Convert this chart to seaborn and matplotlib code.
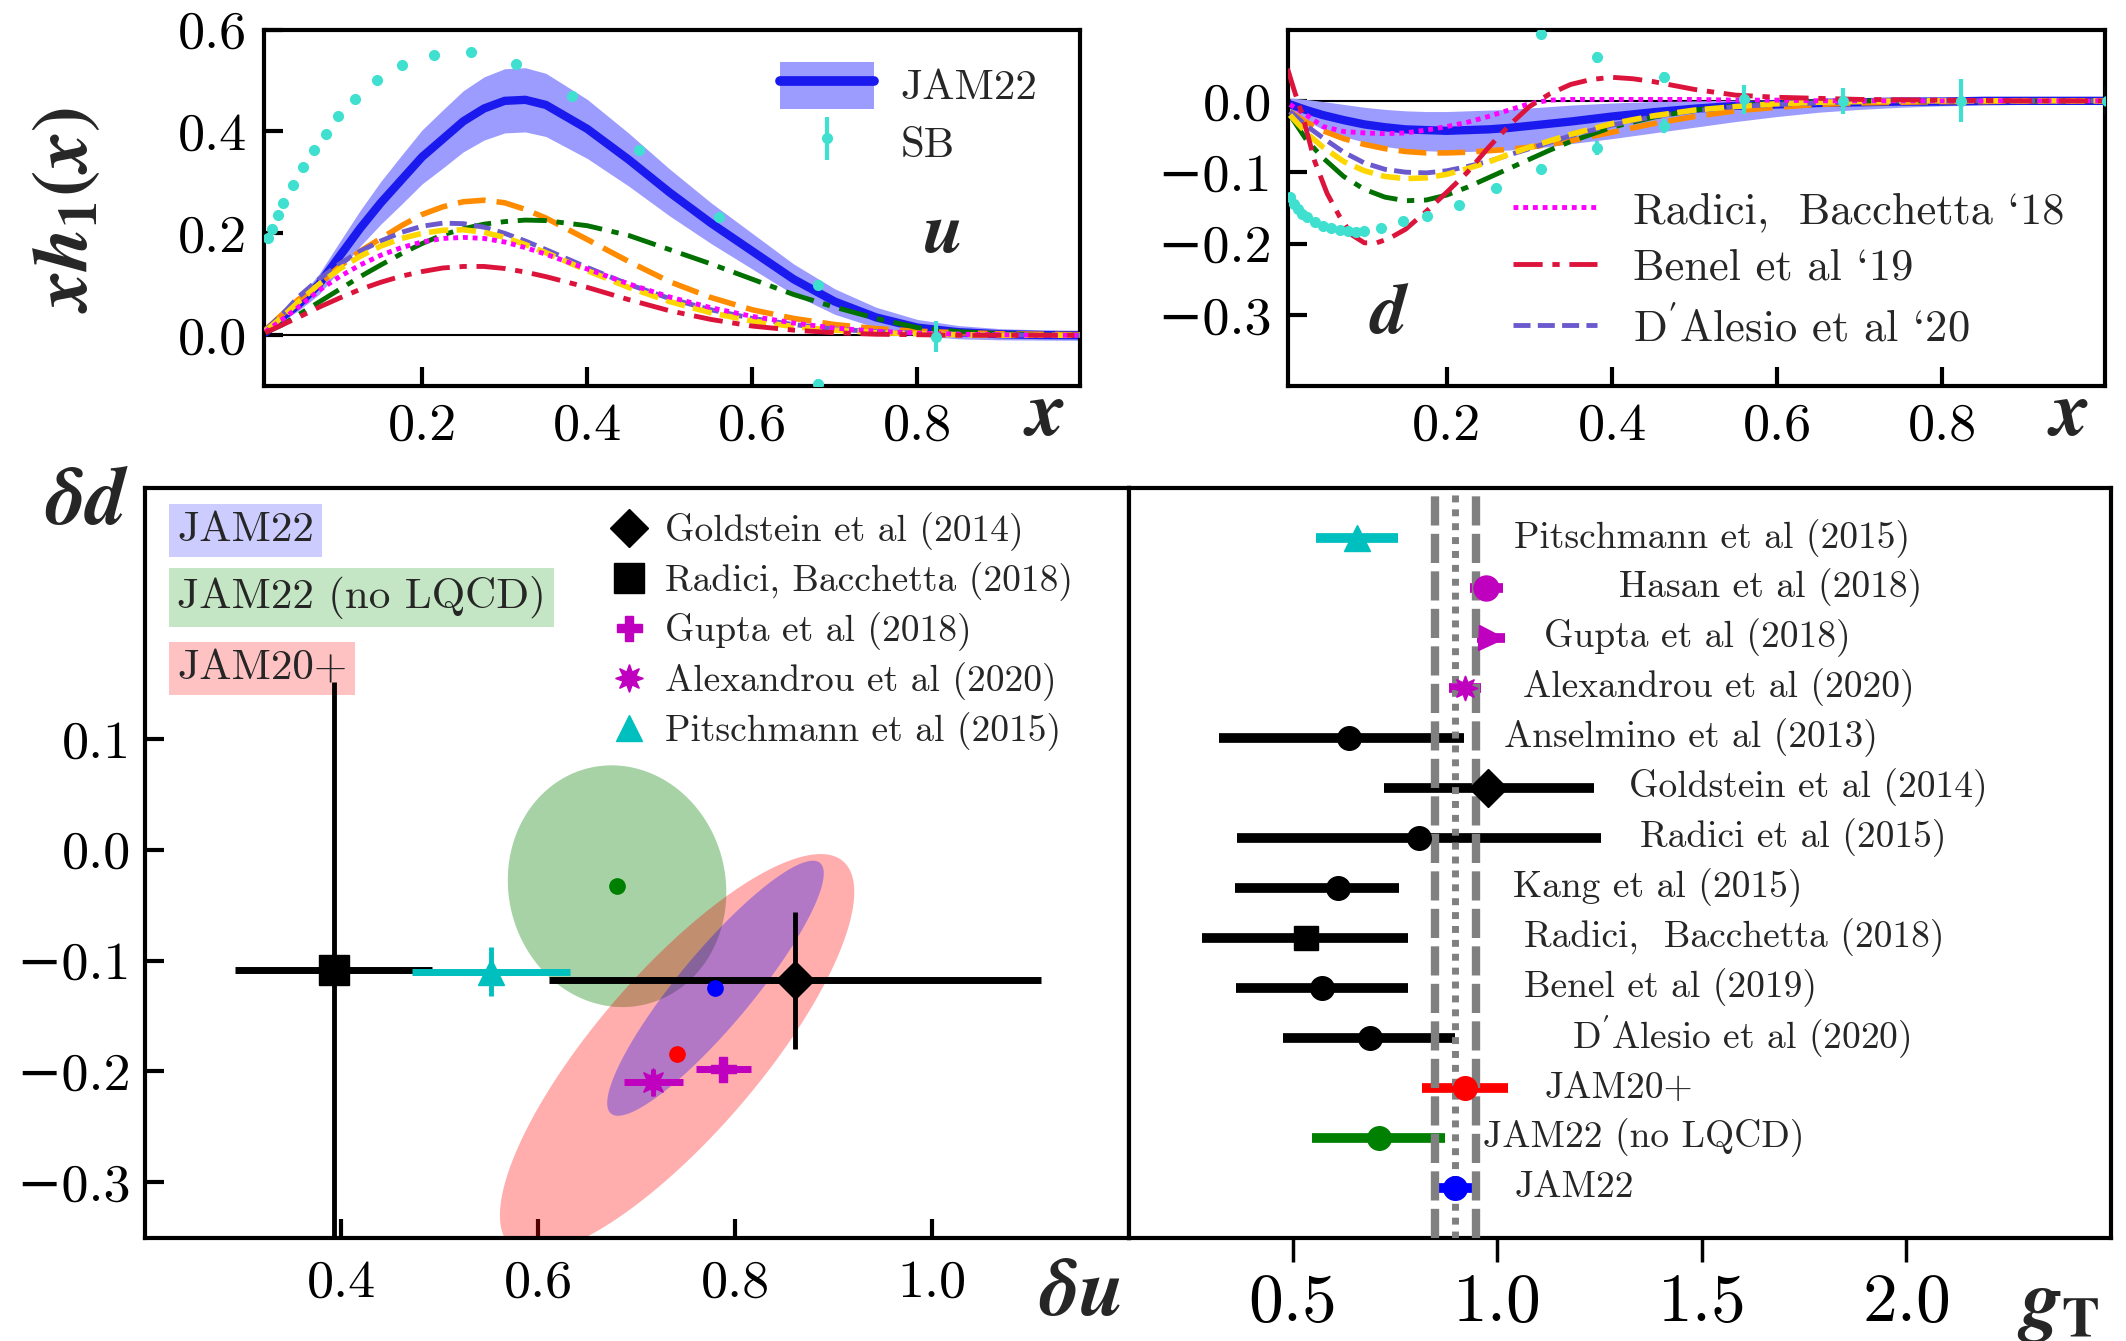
import numpy as np
import matplotlib
matplotlib.use("Agg")
import matplotlib.pyplot as plt
import seaborn as sns
from matplotlib.lines import Line2D
from matplotlib.patches import Patch
from matplotlib.legend_handler import HandlerTuple

# ------------------------------------------------------------------ data
X_GRID = [0.01, 0.03, 0.05, 0.075, 0.1, 0.125, 0.15, 0.175, 0.2, 0.225, 0.25, 0.275,
          0.3, 0.325, 0.35, 0.4, 0.45, 0.5, 0.55, 0.6, 0.65, 0.7, 0.75, 0.8, 0.85,
          0.9, 0.95, 1.0]

# u quark (x h1)
JAM22_U = [0.005, 0.035, 0.06, 0.10, 0.155, 0.21, 0.26, 0.305, 0.35, 0.385, 0.42, 0.445,
           0.46, 0.462, 0.452, 0.405, 0.345, 0.28, 0.22, 0.165, 0.11, 0.066, 0.035, 0.015,
           0.006, 0.002, 0.0005, 0.0]
JAM22_U_LO = [0.003, 0.028, 0.048, 0.08, 0.127, 0.175, 0.218, 0.257, 0.297, 0.328, 0.36, 0.383,
              0.397, 0.399, 0.39, 0.347, 0.293, 0.234, 0.18, 0.13, 0.08, 0.041, 0.015, -0.001,
              -0.007, -0.009, -0.0095, -0.01]
JAM22_U_HI = [0.007, 0.042, 0.072, 0.12, 0.183, 0.245, 0.302, 0.353, 0.403, 0.442, 0.48, 0.507,
              0.523, 0.525, 0.514, 0.463, 0.397, 0.326, 0.26, 0.2, 0.14, 0.091, 0.055, 0.031,
              0.019, 0.013, 0.0105, 0.01]
ORANGE_U = [0.01, 0.04, 0.07, 0.10, 0.135, 0.165, 0.19, 0.215, 0.237, 0.252, 0.262, 0.265,
            0.26, 0.247, 0.23, 0.188, 0.145, 0.105, 0.074, 0.05, 0.033, 0.021, 0.013, 0.008,
            0.005, 0.003, 0.002, 0.001]
GREEN_U = [0.005, 0.02, 0.04, 0.065, 0.09, 0.115, 0.138, 0.16, 0.18, 0.197, 0.209, 0.218,
           0.223, 0.226, 0.225, 0.215, 0.196, 0.168, 0.14, 0.11, 0.08, 0.055, 0.033, 0.015,
           0.007, 0.003, 0.001, 0.0]
DALESIO_U = [0.01, 0.04, 0.075, 0.11, 0.14, 0.165, 0.185, 0.202, 0.214, 0.22, 0.219, 0.212,
             0.2, 0.185, 0.168, 0.133, 0.1, 0.072, 0.05, 0.033, 0.021, 0.012, 0.007, 0.004,
             0.002, 0.001, 0.0, 0.0]
GOLD_U = [0.008, 0.035, 0.065, 0.1, 0.13, 0.155, 0.175, 0.19, 0.2, 0.206, 0.207, 0.202,
          0.192, 0.178, 0.162, 0.127, 0.094, 0.066, 0.044, 0.028, 0.017, 0.01, 0.005, 0.003,
          0.001, 0.0, 0.0, 0.0]
RADICI_U = [0.007, 0.03, 0.055, 0.088, 0.115, 0.138, 0.157, 0.172, 0.183, 0.19, 0.192, 0.19,
            0.183, 0.172, 0.159, 0.13, 0.101, 0.075, 0.054, 0.037, 0.024, 0.014, 0.008, 0.004,
            0.002, 0.001, 0.0, 0.0]
BENEL_U = [0.005, 0.02, 0.035, 0.055, 0.073, 0.09, 0.104, 0.116, 0.125, 0.132, 0.135, 0.135,
           0.131, 0.124, 0.115, 0.094, 0.07, 0.048, 0.031, 0.018, 0.01, 0.005, 0.002, 0.001,
           0.0, 0.0, 0.0, 0.0]
SB_U_X = [0.013, 0.018, 0.025, 0.032, 0.043, 0.056, 0.069, 0.083, 0.098, 0.119, 0.145, 0.176,
          0.214, 0.259, 0.314, 0.382, 0.463, 0.56, 0.68, 0.823, 0.68]
SB_U_Y = [0.19, 0.209, 0.235, 0.26, 0.295, 0.33, 0.364, 0.395, 0.43, 0.464, 0.5, 0.53,
          0.55, 0.556, 0.533, 0.47, 0.364, 0.232, 0.099, -0.003, -0.095]
SB_U_ERR = [0.004, 0.004, 0.004, 0.004, 0.004, 0.004, 0.004, 0.004, 0.004, 0.005, 0.005, 0.006,
            0.006, 0.007, 0.007, 0.008, 0.008, 0.008, 0.01, 0.03, 0.01]

# d quark (x h1)
JAM22_D = [-0.005, -0.013, -0.02, -0.027, -0.033, -0.037, -0.04, -0.041, -0.042, -0.041, -0.04,
           -0.038, -0.035, -0.032, -0.029, -0.022, -0.016, -0.011, -0.007, -0.005, -0.003,
           -0.002, -0.001, -0.001, 0.0, 0.0, 0.0, 0.0]
JAM22_D_LO = [-0.015, -0.028, -0.04, -0.05, -0.058, -0.064, -0.068, -0.07, -0.071, -0.071, -0.07,
              -0.069, -0.067, -0.064, -0.06, -0.053, -0.045, -0.037, -0.029, -0.022, -0.016,
              -0.012, -0.009, -0.007, -0.006, -0.005, -0.005, -0.005]
JAM22_D_HI = [0.004, 0.002, -0.001, -0.005, -0.009, -0.012, -0.014, -0.015, -0.015, -0.014,
              -0.013, -0.012, -0.01, -0.008, -0.006, -0.003, -0.001, 0.0, 0.001, 0.001, 0.002,
              0.003, 0.003, 0.004, 0.004, 0.005, 0.005, 0.005]
ORANGE_D = [-0.015, -0.03, -0.042, -0.053, -0.061, -0.067, -0.071, -0.073, -0.073, -0.072, -0.07,
            -0.068, -0.065, -0.061, -0.056, -0.044, -0.032, -0.022, -0.014, -0.009, -0.005,
            -0.003, -0.002, -0.001, -0.001, 0.0, 0.0, 0.0]
GREEN_D = [-0.02, -0.055, -0.08, -0.106, -0.124, -0.135, -0.14, -0.139, -0.132, -0.121, -0.108,
           -0.095, -0.082, -0.069, -0.057, -0.037, -0.023, -0.013, -0.007, -0.003, -0.001, 0.0,
           0.0, 0.0, 0.0, 0.0, 0.0, 0.0]
DALESIO_D = [-0.015, -0.035, -0.052, -0.072, -0.087, -0.096, -0.1, -0.101, -0.098, -0.092,
             -0.085, -0.076, -0.067, -0.058, -0.049, -0.034, -0.022, -0.014, -0.008, -0.005,
             -0.003, -0.001, 0.0, 0.0, 0.0, 0.0, 0.0, 0.0]
GOLD_D = [-0.02, -0.045, -0.065, -0.085, -0.098, -0.106, -0.109, -0.108, -0.103, -0.095, -0.086,
          -0.075, -0.065, -0.056, -0.047, -0.032, -0.021, -0.013, -0.008, -0.004, -0.002,
          -0.001, 0.0, 0.0, 0.0, 0.0, 0.0, 0.0]
RADICI_D = [-0.005, -0.02, -0.036, -0.043, -0.045, -0.046, -0.045, -0.041, -0.036, -0.03, -0.022,
            -0.013, -0.004, 0.001, 0.002, 0.002, 0.002, 0.002, 0.001, 0.001, 0.0, 0.0, 0.0, 0.0,
            0.0, 0.0, 0.0, 0.0]
BENEL_X = [0.007, 0.015, 0.025, 0.04, 0.055, 0.07, 0.085, 0.1, 0.115, 0.13, 0.15, 0.175, 0.2,
           0.225, 0.25, 0.275, 0.3, 0.325, 0.35, 0.375, 0.4, 0.425, 0.45, 0.5, 0.55, 0.6, 0.7,
           0.8, 0.9, 1.0]
BENEL_D = [0.045, 0.015, -0.02, -0.085, -0.13, -0.162, -0.188, -0.199, -0.199, -0.193, -0.18,
           -0.155, -0.128, -0.1, -0.066, -0.035, -0.008, 0.01, 0.023, 0.03, 0.033, 0.031, 0.027,
           0.016, 0.008, 0.005, 0.002, 0.001, 0.0, 0.0]
SB_D_X = [0.01, 0.015, 0.02, 0.025, 0.03, 0.04, 0.05, 0.06, 0.07, 0.08, 0.09, 0.1, 0.12, 0.147,
          0.176, 0.215, 0.26, 0.314, 0.382, 0.463, 0.56, 0.68, 0.823, 1.0, 0.314, 0.382, 0.463]
SB_D_Y = [-0.135, -0.145, -0.152, -0.158, -0.163, -0.17, -0.175, -0.178, -0.181, -0.183, -0.184,
          -0.183, -0.178, -0.169, -0.162, -0.146, -0.122, -0.096, -0.066, -0.035, 0.002, 0.0,
          0.0, 0.0, 0.094, 0.061, 0.033]
SB_D_ERR = [0.003, 0.003, 0.003, 0.003, 0.003, 0.003, 0.003, 0.003, 0.003, 0.003, 0.003, 0.003,
            0.004, 0.004, 0.005, 0.005, 0.006, 0.007, 0.01, 0.01, 0.02, 0.018, 0.03, 0.02,
            0.007, 0.008, 0.008]

# tensor charges: delta u vs delta d
LIT_NAMES = ["Goldstein et al (2014)", "Radici, Bacchetta (2018)", "Gupta et al (2018)",
             "Alexandrou et al (2020)", "Pitschmann et al (2015)"]
LIT_DU = [0.861, 0.392, 0.788, 0.717, 0.552]
LIT_DU_ERR = [0.25, 0.10, 0.028, 0.03, 0.08]
LIT_DD = [-0.118, -0.109, -0.198, -0.21, -0.11]
LIT_DD_ERR = [0.062, 0.26, 0.01, 0.012, 0.022]

FIT_NAMES = ["JAM22 (no LQCD)", "JAM20+", "JAM22"]
FIT_DU = [0.68, 0.741, 0.78]
FIT_DD = [-0.033, -0.184, -0.125]
FIT_DU_HALF = [0.111, 0.18, 0.11]
FIT_DD_HALF = [0.109, 0.18, 0.115]
FIT_CORR = [-0.05, 0.81, 0.9]

# isovector tensor charge g_T
GT_NAMES = ["Pitschmann et al (2015)", "Hasan et al (2018)", "Gupta et al (2018)",
            "Alexandrou et al (2020)", "Anselmino et al (2013)", "Goldstein et al (2014)",
            "Radici et al (2015)", "Kang et al (2015)", "Radici,  Bacchetta (2018)",
            "Benel et al (2019)", "D$'$Alesio et al (2020)", "JAM20+", "JAM22 (no LQCD)", "JAM22"]
GT_VAL = [0.658, 0.973, 0.985, 0.921, 0.639, 0.978, 0.808, 0.61, 0.532, 0.571, 0.689,
          0.921, 0.71, 0.898]
GT_ERR_LO = [0.10, 0.04, 0.035, 0.04, 0.32, 0.254, 0.445, 0.25, 0.253, 0.21, 0.213,
             0.105, 0.163, 0.05]
GT_ERR_HI = [0.10, 0.04, 0.035, 0.04, 0.28, 0.259, 0.446, 0.15, 0.249, 0.21, 0.209,
             0.105, 0.163, 0.05]

# ------------------------------------------------------------------ styles / layout
GT_COLORS = ["c", "m", "m", "m", "k", "k", "k", "k", "k", "k", "k", "red", "green", "blue"]
GT_MARKERS = ["^", "o", ">", (8, 1, 0), "o", "D", "o", "o", "s", "o", "o", "o", "o", "o"]
GT_MS = [19, 18, 18, 18, 17, 19, 17, 17, 17, 17, 17, 17, 17, 17]
GT_LABEL_X = [1.042, 1.298, 1.115, 1.062, 1.016, 1.321, 1.348, 1.039, 1.066, 1.066,
              1.182, 1.115, 0.966, 1.042]
LIT_COLORS = ["k", "k", "m", "m", "c"]
LIT_MARKERS = ["D", "s", "P", (8, 1, 0), "^"]
LIT_MS = [19, 21, 18, 20, 19]
FIT_COLORS = ["green", "red", "blue"]
FIT_ALPHA = [0.35, 0.32, 0.30]

sns.set_style("ticks")
plt.rcParams.update({
    "font.family": ["cmr10", "DejaVu Serif"],
    "axes.unicode_minus": True,
    "axes.formatter.use_mathtext": False,
    "mathtext.fontset": "custom",
    "mathtext.it": "STIXGeneral:italic:bold",
    "mathtext.rm": "STIXGeneral:bold",
    "mathtext.bf": "STIXGeneral:bold",
    "mathtext.fallback": "stix",
    "axes.linewidth": 3,
})

fig = plt.figure(figsize=(21.26, 13.41), dpi=100)
ax_u = fig.add_axes([0.124, 0.712, 0.384, 0.266])
ax_d = fig.add_axes([0.606, 0.712, 0.384, 0.266])
ax_bl = fig.add_axes([0.068, 0.077, 0.463, 0.559])
ax_br = fig.add_axes([0.531, 0.077, 0.462, 0.559])

TICK_FS = 39
for ax in (ax_u, ax_d, ax_bl, ax_br):
    for sp in ax.spines.values():
        sp.set_linewidth(3)
        sp.set_color("k")
    ax.tick_params(direction="in", length=14, width=3, labelsize=TICK_FS, pad=12,
                   top=False, right=False, colors="k")
    ax.set_facecolor("white")

DASH = (0, (5, 2))
DASHDOT = (0, (6, 2, 1.5, 2))
SHORTDASH = (0, (3.5, 1.5))
DOT = (0, (1, 1))


def draw_pdf_panel(ax, band_lo, band_hi, central, orange, green, dalesio, gold, radici,
                   benel_x, benel, sb_x, sb_y, sb_err):
    ax.axhline(0, color="k", lw=1.5, zorder=1)
    ax.fill_between(X_GRID, band_lo, band_hi, color="#9c9cff", lw=0, zorder=1.5)
    sns.lineplot(x=X_GRID, y=central, ax=ax, color="#1a1aee", lw=6, zorder=2,
                 sort=False, errorbar=None)
    sns.lineplot(x=X_GRID, y=orange, ax=ax, color="#ff8c00", lw=4, linestyle=DASH, zorder=3,
                 sort=False, errorbar=None)
    sns.lineplot(x=X_GRID, y=green, ax=ax, color="#007000", lw=3.5, linestyle=DASHDOT,
                 zorder=3, sort=False, errorbar=None)
    sns.lineplot(x=X_GRID, y=dalesio, ax=ax, color="#6a5acd", lw=3.5, linestyle=SHORTDASH,
                 zorder=3, sort=False, errorbar=None, label="D$'$Alesio et al `20")
    sns.lineplot(x=X_GRID, y=gold, ax=ax, color="#ffd700", lw=4, linestyle=SHORTDASH, zorder=3,
                 sort=False, errorbar=None)
    sns.lineplot(x=X_GRID, y=radici, ax=ax, color="#ff00ff", lw=3.5, linestyle=DOT, zorder=3,
                 sort=False, errorbar=None, label="Radici,  Bacchetta `18")
    sns.lineplot(x=benel_x, y=benel, ax=ax, color="#dc143c", lw=3.5, linestyle=DASHDOT,
                 zorder=3, sort=False, errorbar=None, label="Benel et al `19")
    eb = ax.errorbar(sb_x, sb_y, yerr=sb_err, fmt="o", color="#40e0d0", ms=7, elinewidth=3,
                     capsize=0, zorder=4, label="SB")
    ax.set_xlim(0.008, 0.997)
    ax.set_xticks([0.2, 0.4, 0.6, 0.8])
    ax.set_xlabel("")
    ax.set_ylabel("")
    return eb


eb_u = draw_pdf_panel(ax_u, JAM22_U_LO, JAM22_U_HI, JAM22_U, ORANGE_U, GREEN_U, DALESIO_U,
                      GOLD_U, RADICI_U, X_GRID, BENEL_U, SB_U_X, SB_U_Y, SB_U_ERR)
ax_u.set_ylim(-0.1, 0.6)
ax_u.set_yticks([0.0, 0.2, 0.4, 0.6])
if ax_u.get_legend() is not None:
    ax_u.get_legend().remove()
h_jam = (Patch(facecolor="#9c9cff", edgecolor="none"), Line2D([], [], color="#1a1aee", lw=7))
ax_u.legend([h_jam, eb_u], ["JAM22", "SB"], handler_map={tuple: HandlerTuple(ndivide=1)},
            loc="upper left", bbox_to_anchor=(0.632, 0.91), frameon=False, fontsize=31,
            handlelength=2.2, handleheight=1.3, handletextpad=0.6, labelspacing=0.25,
            borderpad=0, borderaxespad=0)
ax_u.text(0.83, 0.2, "$u$", fontsize=52, ha="center", va="center")

draw_pdf_panel(ax_d, JAM22_D_LO, JAM22_D_HI, JAM22_D, ORANGE_D, GREEN_D, DALESIO_D, GOLD_D,
               RADICI_D, BENEL_X, BENEL_D, SB_D_X, SB_D_Y, SB_D_ERR)
ax_d.set_ylim(-0.4, 0.1)
ax_d.set_yticks([0.0, -0.1, -0.2, -0.3])
handles, labels = ax_d.get_legend_handles_labels()
order = ["Radici,  Bacchetta `18", "Benel et al `19", "D$'$Alesio et al `20"]
hmap = dict(zip(labels, handles))
ax_d.legend([hmap[k] for k in order], order, loc="upper left", bbox_to_anchor=(0.275, 0.545),
            frameon=False, fontsize=32, handlelength=1.9, handletextpad=0.8, labelspacing=0.38,
            borderpad=0, borderaxespad=0)
ax_d.text(0.13, -0.3, "$d$", fontsize=52, ha="center", va="center")

# ------------------------------------------------------------------ delta u / delta d
t = np.linspace(0, 2 * np.pi, 300)
for cx, cy, hx, hy, rho, col, al in zip(FIT_DU, FIT_DD, FIT_DU_HALF, FIT_DD_HALF, FIT_CORR,
                                          FIT_COLORS, FIT_ALPHA):
    ex = cx + hx * np.cos(t)
    ey = cy + hy * (rho * np.cos(t) + np.sqrt(1 - rho ** 2) * np.sin(t))
    ax_bl.fill(ex, ey, color=col, alpha=al, lw=0, zorder=1)
for cx, cy, col in zip(FIT_DU, FIT_DD, FIT_COLORS):
    ax_bl.plot([cx], [cy], "o", color=col, ms=11, zorder=5)

for i in range(len(LIT_NAMES)):
    ax_bl.errorbar(LIT_DU[i], LIT_DD[i], xerr=LIT_DU_ERR[i], fmt="none",
                   ecolor=LIT_COLORS[i], elinewidth=5, capsize=0, zorder=3 + 0.1 * i)
    ax_bl.errorbar(LIT_DU[i], LIT_DD[i], yerr=LIT_DD_ERR[i], fmt="none",
                   ecolor=LIT_COLORS[i], elinewidth=3.5, capsize=0, zorder=3 + 0.1 * i)
    ax_bl.plot([LIT_DU[i]], [LIT_DD[i]], ls="none", marker=LIT_MARKERS[i], color=LIT_COLORS[i],
               ms=LIT_MS[i], zorder=4 + 0.1 * i)
ax_bl.set_xlim(0.2, 1.2)
ax_bl.set_ylim(-0.35, 0.326)
ax_bl.set_xticks([0.4, 0.6, 0.8, 1.0])
ax_bl.set_yticks([0.1, 0.0, -0.1, -0.2, -0.3])
ax_bl.tick_params(axis="x", pad=16)
ax_bl.tick_params(axis="y", pad=10)
lit_handles = [Line2D([], [], ls="none", marker=m, color=c, ms=s)
               for m, c, s in zip(LIT_MARKERS, LIT_COLORS, LIT_MS)]
ax_bl.legend(lit_handles, LIT_NAMES, loc="upper left", bbox_to_anchor=(0.475, 0.968),
             frameon=False, fontsize=27, handlelength=0.9, handletextpad=0.5,
             labelspacing=0.3, borderpad=0, borderaxespad=0)
box_labels = ["JAM22", "JAM22 (no LQCD)", "JAM20+"]
box_colors = [(0.8, 0.8, 1.0), (0.77, 0.9, 0.77), (1.0, 0.76, 0.76)]
box_y = [0.944, 0.854, 0.759]
for lab, bc, yy in zip(box_labels, box_colors, box_y):
    ax_bl.text(0.033, yy, lab, transform=ax_bl.transAxes, fontsize=31, ha="left", va="center",
               bbox=dict(boxstyle="square,pad=0.18", facecolor=bc, edgecolor="none"))

# ------------------------------------------------------------------ g_T
n = len(GT_NAMES)
rows = [n - 1 - i for i in range(n)]
band_c, band_e = GT_VAL[-1], GT_ERR_LO[-1]
for xv in [band_c - band_e, band_c + band_e]:
    ax_br.axvline(xv, color="#808080", lw=6, linestyle=(0, (3.5, 1.0)), zorder=3)
ax_br.axvline(band_c, color="#808080", lw=5, linestyle=(0, (1.0, 1.0)), zorder=3)
for i in range(n):
    ax_br.errorbar(GT_VAL[i], rows[i], xerr=[[GT_ERR_LO[i]], [GT_ERR_HI[i]]], fmt="none",
                   ecolor=GT_COLORS[i], elinewidth=7, capsize=0, zorder=2)
    ax_br.plot([GT_VAL[i]], [rows[i]], ls="none", marker=GT_MARKERS[i], color=GT_COLORS[i],
               ms=GT_MS[i], zorder=4)
    ax_br.text(GT_LABEL_X[i], rows[i], GT_NAMES[i], fontsize=27, ha="left", va="center")
ax_br.set_xlim(0.1, 2.5)
ax_br.set_ylim(-1, n)
ax_br.set_xticks([0.5, 1.0, 1.5, 2.0])
ax_br.set_yticks([])
ax_br.tick_params(axis="x", direction="out", length=17, width=2.5, labelsize=50, pad=8)

# ------------------------------------------------------------------ big labels
fig.text(0.031, 0.843, "$xh_1(x)$", fontsize=56, rotation=90, ha="center", va="center")
fig.text(0.491, 0.690, "$x$", fontsize=56, ha="center", va="center")
fig.text(0.9726, 0.690, "$x$", fontsize=56, ha="center", va="center")
fig.text(0.041, 0.624, r"$\delta d$", fontsize=58, ha="center", va="center")
fig.text(0.508, 0.034, r"$\delta u$", fontsize=58, ha="center", va="center")
fig.text(0.968, 0.024, r"$g_{\mathrm{T}}$", fontsize=58, ha="center", va="center")

fig.savefig("out.png", dpi=100, facecolor="white")
